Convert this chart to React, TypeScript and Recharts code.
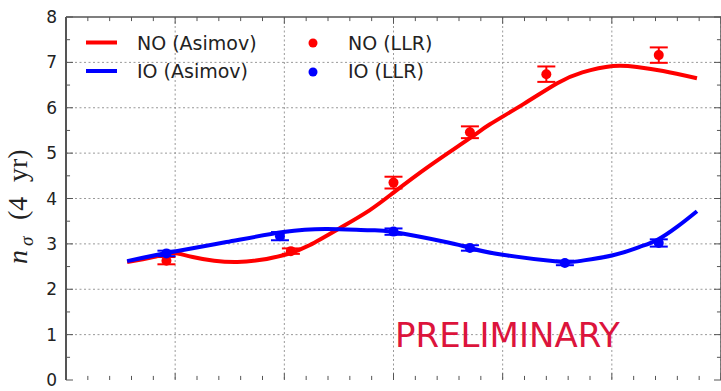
import React from 'react';
import { ComposedChart, Line, Scatter, ErrorBar, XAxis, YAxis, CartesianGrid, ReferenceLine } from 'recharts';

// Asimov curves
const noAsimovX = [0.56, 0.8, 0.98, 1.16, 1.57, 1.99, 2.23, 2.51, 2.78, 3.0, 3.33, 3.7, 3.88, 4.19, 4.5, 4.73, 5.01, 5.23, 5.47, 5.78];
const noAsimovY = [2.6, 2.71, 2.8, 2.71, 2.6, 2.75, 2.97, 3.35, 3.74, 4.13, 4.72, 5.33, 5.63, 6.08, 6.54, 6.78, 6.92, 6.9, 6.81, 6.65];
const ioAsimovX = [0.56, 0.92, 1.47, 1.99, 2.39, 2.78, 3.0, 3.5, 3.7, 4.0, 4.5, 4.7, 5.01, 5.25, 5.41, 5.6, 5.78];
const ioAsimovY = [2.62, 2.8, 3.04, 3.26, 3.33, 3.3, 3.26, 3.03, 2.91, 2.76, 2.61, 2.62, 2.75, 2.93, 3.08, 3.38, 3.72];

// LLR points
const noLlrX = [0.92, 2.06, 3.0, 3.7, 4.4, 5.43];
const noLlrY = [2.63, 2.84, 4.35, 5.46, 6.74, 7.16];
const noLlrErr = [0.08, 0.06, 0.13, 0.13, 0.17, 0.17];
const ioLlrX = [0.92, 1.96, 3.0, 3.7, 4.57, 5.43];
const ioLlrY = [2.79, 3.17, 3.27, 2.91, 2.58, 3.02];
const ioLlrErr = [0.06, 0.09, 0.07, 0.06, 0.05, 0.08];

const xMajorTicks = [0, 1, 2, 3, 4, 5, 6];
const xMinorTicks = [0.2, 0.4, 0.6, 0.8, 1.2, 1.4, 1.6, 1.8, 2.2, 2.4, 2.6, 2.8, 3.2, 3.4, 3.6, 3.8, 4.2, 4.4, 4.6, 4.8, 5.2, 5.4, 5.6, 5.8];
const yMajorTicks = [0, 1, 2, 3, 4, 5, 6, 7, 8];
const yMinorTicks = [0.5, 1.5, 2.5, 3.5, 4.5, 5.5, 6.5, 7.5];

const toPoints = (xs: number[], ys: number[]) => xs.map((x, i) => ({ x, y: ys[i] }));
const toErrPoints = (xs: number[], ys: number[], es: number[]) => xs.map((x, i) => ({ x, y: ys[i], err: es[i] }));

const noAsimov = toPoints(noAsimovX, noAsimovY);
const ioAsimov = toPoints(ioAsimovX, ioAsimovY);
const noLlr = toErrPoints(noLlrX, noLlrY, noLlrErr);
const ioLlr = toErrPoints(ioLlrX, ioLlrY, ioLlrErr);

const RED = '#ff0000';
const BLUE = '#0000ff';
const AXIS = '#555';
const FONT = '"DejaVu Sans", sans-serif';

// inward tick lengths in data units (x span 6 over ~655px, y span 8 over ~363px)
const X_TICK_MAJ = 0.15;
const X_TICK_MIN = 0.09;
const Y_TICK_MAJ = 0.064;
const Y_TICK_MIN = 0.037;

const dot = (color: string) => (p: any) => <circle cx={p.cx} cy={p.cy} r={5} fill={color} />;
const noTick = () => <g />;

const xTickMarks = (ticks: number[], len: number, tag: string) =>
  ticks.flatMap((t) => [
    <ReferenceLine key={tag + 'b' + t} segment={[{ x: t, y: 0 }, { x: t, y: len }]} stroke={AXIS} strokeWidth={1} />,
    <ReferenceLine key={tag + 't' + t} segment={[{ x: t, y: 8 }, { x: t, y: 8 - len }]} stroke={AXIS} strokeWidth={1} />,
  ]);

const yTickMarks = (ticks: number[], len: number, tag: string) =>
  ticks.flatMap((t) => [
    <ReferenceLine key={tag + 'l' + t} segment={[{ x: 0, y: t }, { x: len, y: t }]} stroke={AXIS} strokeWidth={1} />,
    <ReferenceLine key={tag + 'r' + t} segment={[{ x: 6, y: t }, { x: 6 - len, y: t }]} stroke={AXIS} strokeWidth={1} />,
  ]);

export default function App() {
  return (
    <div style={{ position: 'absolute', left: 0, top: 0, width: 721, height: 391, background: '#fff' }}>
      <ComposedChart width={721} height={391} margin={{ top: 17, right: 0, bottom: 11, left: 0 }}>
        <CartesianGrid vertical={true} horizontal={false} stroke="#999" strokeWidth={1} strokeDasharray="2 2.5" />
        {yMajorTicks.slice(1, -1).map((t) => (
          <ReferenceLine key={'hg' + t} y={t} stroke="#999" strokeWidth={1} strokeDasharray="2 2.5" />
        ))}
        <XAxis type="number" dataKey="x" domain={[0, 6]} ticks={xMajorTicks} orientation="bottom"
          mirror height={0} tick={noTick} tickLine={false} axisLine={{ stroke: AXIS, strokeWidth: 2 }} allowDataOverflow />
        <YAxis type="number" domain={[0, 8]} ticks={yMajorTicks} width={66} tickSize={0} tickMargin={9}
          axisLine={{ stroke: AXIS, strokeWidth: 2 }} tickLine={false} tick={{ fontSize: 17, fill: '#222', fontFamily: FONT }} allowDataOverflow />
        <ReferenceLine y={8} stroke={AXIS} strokeWidth={1.5} />
        <ReferenceLine x={6} stroke={AXIS} strokeWidth={1.5} />
        {xTickMarks(xMajorTicks, X_TICK_MAJ, 'M')}
        {xTickMarks(xMinorTicks, X_TICK_MIN, 'm')}
        {yTickMarks(yMajorTicks, Y_TICK_MAJ, 'M')}
        {yTickMarks(yMinorTicks, Y_TICK_MIN, 'm')}

        <Line data={noAsimov} dataKey="y" type="natural" stroke={RED} strokeWidth={4} dot={false} isAnimationActive={false} />
        <Line data={ioAsimov} dataKey="y" type="natural" stroke={BLUE} strokeWidth={4} dot={false} isAnimationActive={false} />
        <Scatter data={noLlr} dataKey="y" fill={RED} shape={dot(RED)} isAnimationActive={false}>
          <ErrorBar dataKey="err" direction="y" width={9} stroke={RED} strokeWidth={2} />
        </Scatter>
        <Scatter data={ioLlr} dataKey="y" fill={BLUE} shape={dot(BLUE)} isAnimationActive={false}>
          <ErrorBar dataKey="err" direction="y" width={9} stroke={BLUE} strokeWidth={2} />
        </Scatter>
      </ComposedChart>

      <svg width={721} height={391} style={{ position: 'absolute', left: 0, top: 0, pointerEvents: 'none' }}>
        {/* legend */}
        <line x1={86} x2={117} y1={42.5} y2={42.5} stroke={RED} strokeWidth={4} />
        <text x={137} y={50} fontSize={19} fill="#222" fontFamily={FONT}>NO (Asimov)</text>
        <line x1={86} x2={117} y1={71} y2={71} stroke={BLUE} strokeWidth={4} />
        <text x={137} y={78} fontSize={19} fill="#222" fontFamily={FONT}>IO (Asimov)</text>
        <circle cx={313} cy={43} r={4.5} fill={RED} />
        <text x={348} y={50} fontSize={19} fill="#222" fontFamily={FONT}>NO (LLR)</text>
        <circle cx={313} cy={72} r={4.5} fill={BLUE} />
        <text x={348} y={78} fontSize={19} fill="#222" fontFamily={FONT}>IO (LLR)</text>

        {/* y label */}
        <text transform="rotate(-90)" y={27} fontFamily='"Liberation Serif", serif' fontSize={28} fill="#222">
          <tspan x={-264} fontStyle="italic">n</tspan>
          <tspan x={-246} dy={6} fontSize={19} fontStyle="italic">σ</tspan>
          <tspan x={-220} dy={-6}>(4</tspan>
          <tspan x={-182}>yr)</tspan>
        </text>

        <text x={395} y={347} fontSize={34} fill="#dc143c" fontFamily={FONT}>PRELIMINARY</text>
      </svg>
    </div>
  );
}
